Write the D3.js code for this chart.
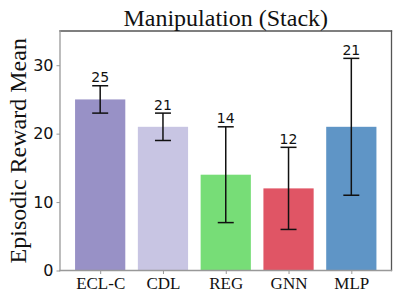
<!DOCTYPE html>
<html>
<head>
<meta charset="utf-8">
<script src="https://cdn.jsdelivr.net/npm/d3@7"></script>
<style>
  body { margin: 0; background: #fff; }
  svg { display: block; }
</style>
</head>
<body>
<div class="chart"></div>
<script>
const methods = ['ECL-C', 'CDL', 'REG', 'GNN', 'MLP'];
const means = [25, 21, 14, 12, 21];
const errLow = [23, 19, 7, 6, 11];
const errHigh = [27, 23, 21, 18, 31];
const barColors = ['#9891c6', '#c8c5e3', '#77dd77', '#e05565', '#5f95c6'];
const yTicks = [0, 10, 20, 30];

const width = 399;
const height = 299;
const margin = { top: 31, right: 7.5, bottom: 28.5, left: 60 };

const svg = d3
  .select('div.chart')
  .append('svg')
  .attr('width', width)
  .attr('height', height);

const x = d3
  .scaleLinear()
  .domain([-0.64, methods.length - 1 + 0.64])
  .range([margin.left, width - margin.right]);

const y = d3
  .scaleLinear()
  .domain([0, 35])
  .range([height - margin.bottom, margin.top]);

const barWidth = x(0.8) - x(0);
const darkSpine = '#555';
const lightSpine = '#999';

// bars
svg
  .selectAll('rect.bar')
  .data(means)
  .enter()
  .append('rect')
  .attr('class', 'bar')
  .attr('x', (d, i) => x(i) - barWidth / 2)
  .attr('y', (d) => y(d))
  .attr('width', barWidth)
  .attr('height', (d) => y(0) - y(d))
  .attr('fill', (d, i) => barColors[i]);

// error bars
const capHalf = 8;
const errs = svg.append('g').attr('stroke', '#111').attr('stroke-width', 1.5);
methods.forEach((m, i) => {
  errs.append('line')
    .attr('x1', x(i)).attr('x2', x(i))
    .attr('y1', y(errLow[i])).attr('y2', y(errHigh[i]));
  errs.append('line')
    .attr('x1', x(i) - capHalf).attr('x2', x(i) + capHalf)
    .attr('y1', y(errLow[i])).attr('y2', y(errLow[i]));
  errs.append('line')
    .attr('x1', x(i) - capHalf).attr('x2', x(i) + capHalf)
    .attr('y1', y(errHigh[i])).attr('y2', y(errHigh[i]));
});

// value labels
svg
  .selectAll('text.value')
  .data(means)
  .enter()
  .append('text')
  .attr('class', 'value')
  .attr('x', (d, i) => x(i))
  .attr('y', (d, i) => y(errHigh[i]) - 3.5)
  .attr('text-anchor', 'middle')
  .attr('font-family', 'DejaVu Sans')
  .attr('font-size', 14)
  .attr('fill', '#111')
  .text((d) => d);

// spines
const x0 = margin.left;
const x1 = width - margin.right;
const y0 = height - margin.bottom;
const y1 = margin.top;
const spines = [
  [x0, y1, x1, y1, darkSpine],
  [x1, y1, x1, y0, darkSpine],
  [x0, y0, x1, y0, lightSpine],
  [x0, y1, x0, y0, lightSpine],
];
svg
  .selectAll('line.spine')
  .data(spines)
  .enter()
  .append('line')
  .attr('class', 'spine')
  .attr('x1', (d) => d[0])
  .attr('y1', (d) => d[1])
  .attr('x2', (d) => d[2])
  .attr('y2', (d) => d[3])
  .attr('stroke', (d) => d[4])
  .attr('stroke-width', 1.3)
  .attr('stroke-linecap', 'square');

// y axis
const yAxis = svg
  .append('g')
  .attr('transform', `translate(${margin.left},0)`)
  .call(d3.axisLeft(y).tickValues(yTicks).tickSize(3.5).tickPadding(3));
yAxis.select('.domain').remove();
yAxis.selectAll('line').attr('stroke', lightSpine);
yAxis
  .selectAll('text')
  .attr('font-family', 'DejaVu Sans')
  .attr('font-size', 16)
  .attr('fill', '#111');

// x axis
const xAxis = svg
  .append('g')
  .attr('transform', `translate(0,${height - margin.bottom})`)
  .call(
    d3.axisBottom(x)
      .tickValues(d3.range(methods.length))
      .tickFormat((i) => methods[i])
      .tickSize(3.5)
      .tickPadding(3)
  );
xAxis.select('.domain').remove();
xAxis.selectAll('line').attr('stroke', lightSpine);
xAxis
  .selectAll('text')
  .attr('font-family', 'Liberation Serif')
  .attr('font-size', 17)
  .attr('fill', '#111');

// title
svg
  .append('text')
  .attr('x', (margin.left + width - margin.right) / 2)
  .attr('y', 26)
  .attr('text-anchor', 'middle')
  .attr('font-family', 'Liberation Serif')
  .attr('font-size', 24)
  .attr('fill', '#111')
  .text('Manipulation (Stack)');

// y label
svg
  .append('text')
  .attr('transform', `translate(26,${(margin.top + height - margin.bottom) / 2}) rotate(-90)`)
  .attr('text-anchor', 'middle')
  .attr('font-family', 'Liberation Serif')
  .attr('font-size', 24)
  .attr('fill', '#111')
  .text('Episodic Reward Mean');
</script>
</body>
</html>
